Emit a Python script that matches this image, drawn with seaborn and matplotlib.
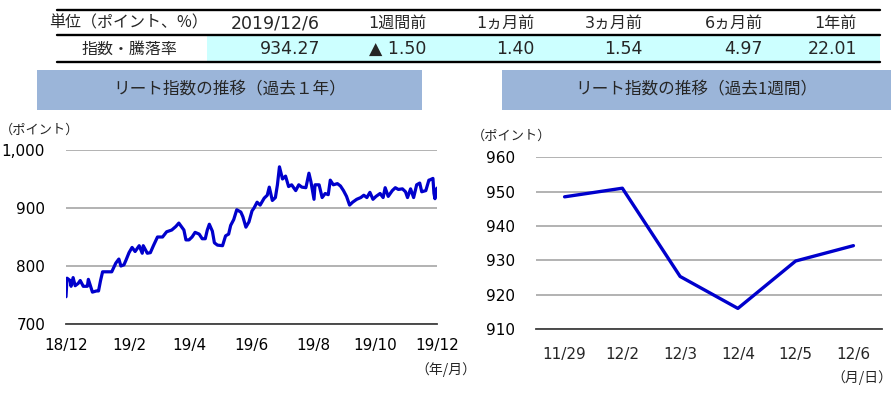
import pandas as pd
import seaborn as sns
import matplotlib.pyplot as plt
from matplotlib.patches import Rectangle

# table
header = ['単位（ポイント、%）', '2019/12/6', '1週間前', '1ヵ月前', '3ヵ月前', '6ヵ月前', '1年前']
row = ['指数・騰落率', '934.27', '▲ 1.50', '1.40', '1.54', '4.97', '22.01']

# past 1 year
year_dates = [
    '2018-12-06', '2018-12-07', '2018-12-10', '2018-12-11', '2018-12-13', '2018-12-15',
    '2018-12-18', '2018-12-20', '2018-12-23', '2018-12-27', '2018-12-28', '2019-01-01',
    '2019-01-05', '2019-01-07', '2019-01-09', '2019-01-11', '2019-01-15', '2019-01-20',
    '2019-01-24', '2019-01-27', '2019-01-29', '2019-02-01', '2019-02-03', '2019-02-06',
    '2019-02-09', '2019-02-12', '2019-02-16', '2019-02-19', '2019-02-20', '2019-02-24',
    '2019-02-27', '2019-03-02', '2019-03-06', '2019-03-11', '2019-03-15', '2019-03-20',
    '2019-03-24', '2019-03-27', '2019-04-01', '2019-04-03', '2019-04-06', '2019-04-09',
    '2019-04-12', '2019-04-16', '2019-04-19', '2019-04-22', '2019-04-24', '2019-04-26',
    '2019-04-29', '2019-05-01', '2019-05-04', '2019-05-09', '2019-05-12', '2019-05-15',
    '2019-05-17', '2019-05-20', '2019-05-23', '2019-05-27', '2019-05-29', '2019-06-01',
    '2019-06-04', '2019-06-07', '2019-06-09', '2019-06-12', '2019-06-15', '2019-06-19',
    '2019-06-22', '2019-06-24', '2019-06-27', '2019-06-30', '2019-07-02', '2019-07-04',
    '2019-07-07', '2019-07-10', '2019-07-13', '2019-07-16', '2019-07-20', '2019-07-23',
    '2019-07-26', '2019-07-30', '2019-08-02', '2019-08-04', '2019-08-07', '2019-08-08',
    '2019-08-12', '2019-08-15', '2019-08-18', '2019-08-21', '2019-08-23', '2019-08-26',
    '2019-08-30', '2019-09-02', '2019-09-05', '2019-09-08', '2019-09-11', '2019-09-14',
    '2019-09-18', '2019-09-22', '2019-09-25', '2019-09-28', '2019-10-01', '2019-10-04',
    '2019-10-07', '2019-10-11', '2019-10-14', '2019-10-16', '2019-10-19', '2019-10-23',
    '2019-10-26', '2019-10-29', '2019-11-02', '2019-11-05', '2019-11-07', '2019-11-10',
    '2019-11-13', '2019-11-16', '2019-11-19', '2019-11-21', '2019-11-25', '2019-11-28',
    '2019-11-29', '2019-12-02', '2019-12-03', '2019-12-04', '2019-12-05', '2019-12-06',
]
year_values = [
    747, 779, 775, 765, 780, 766,
    770, 775, 765, 765, 777, 755,
    757, 757, 775, 790, 790, 790,
    805, 812, 800, 802, 810, 823,
    832, 825, 835, 822, 835, 822,
    823, 835, 850, 850, 859, 862,
    868, 874, 862, 845, 845, 850,
    858, 855, 847, 847, 862, 872,
    860, 840, 836, 835, 852, 855,
    870, 880, 897, 893, 885, 867,
    876, 895, 900, 910, 905, 917,
    922, 936, 913, 918, 940, 971,
    950, 955, 937, 940, 930, 940,
    936, 935, 960, 945, 915, 940,
    940, 918, 925, 923, 948, 940,
    942, 938, 930, 920, 905, 910,
    915, 918, 922, 918, 927, 915,
    920, 925, 918, 935, 920, 930,
    935, 932, 933, 928, 918, 933,
    918, 940, 943, 928, 930, 948,
    948.49, 951.0, 925.3, 916.0, 929.8, 934.27,
]
year_ticks = ['2018-12-06', '2019-02-06', '2019-04-06', '2019-06-06',
              '2019-08-06', '2019-10-06', '2019-12-06']
year_ticklabels = ['18/12', '19/2', '19/4', '19/6', '19/8', '19/10', '19/12']

# past 1 week
week_days = ['11/29', '12/2', '12/3', '12/4', '12/5', '12/6']
week_values = [948.49, 951.0, 925.3, 916.0, 929.8, 934.27]

sns.set_theme(style='white')
plt.rcParams['font.family'] = ['DejaVu Sans', 'Noto Sans CJK JP']
cjk = ['Noto Sans CJK JP', 'DejaVu Sans']
line_color = '#0000cc'
grid_color = '#a6a6a6'
axis_color = '#404040'

W, H = 896, 394
fig = plt.figure(figsize=(W / 100, H / 100), dpi=100)

# background layer in pixel coordinates for table and title boxes
bg = fig.add_axes([0, 0, 1, 1])
bg.set_xlim(0, W)
bg.set_ylim(H, 0)
bg.axis('off')

bg.add_patch(Rectangle((207, 36), 673, 25, color='#ccffff', lw=0))
for y in [10, 35, 62]:
    bg.plot([57, 880], [y, y], color='black', lw=1.7)

bg.text(129, 23, header[0], ha='center', va='center', fontsize=11.5, family=cjk)
bg.text(129, 49, row[0], ha='center', va='center', fontsize=11.5, family=cjk)
right_edges = [320, 426, 534, 643, 763, 857]
for i, (xr, h, r) in enumerate(zip(right_edges, header[1:], row[1:])):
    bg.text(xr, 23, h, ha='right', va='center', fontsize=12.5 if i == 0 else 11.5)
    bg.text(xr, 49, r, ha='right', va='center', fontsize=12.5)

title_color = '#9bb5d9'
bg.add_patch(Rectangle((37, 70), 385, 40, color=title_color, lw=0))
bg.add_patch(Rectangle((502, 70), 389, 40, color=title_color, lw=0))
bg.text(229.5, 90, 'リート指数の推移（過去１年）', ha='center', va='center', fontsize=12, family=cjk)
bg.text(696.5, 90, 'リート指数の推移（過去1週間）', ha='center', va='center', fontsize=12, family=cjk)

bg.text(40, 130, '（ポイント）', ha='center', va='center', fontsize=9.5, family=cjk)
bg.text(512, 136, '（ポイント）', ha='center', va='center', fontsize=9.5, family=cjk)
bg.text(446, 370, '（年/月）', ha='center', va='center', fontsize=10, family=cjk)
bg.text(862, 378, '（月/日）', ha='center', va='center', fontsize=10, family=cjk)

# left chart: past 1 year
df_year = pd.DataFrame({'date': pd.to_datetime(year_dates), 'value': year_values})
ax1 = fig.add_axes([66 / W, 1 - 324 / H, 371 / W, 174 / H])
ax1.patch.set_alpha(0)
sns.lineplot(data=df_year, x='date', y='value', ax=ax1, color=line_color, lw=2.3)
ax1.set_xlim(pd.Timestamp('2018-12-06'), pd.Timestamp('2019-12-06'))
ax1.set_ylim(700, 1000)
ax1.set_yticks([700, 800, 900, 1000], labels=['700', '800', '900', '1,000'])
ax1.set_xticks(pd.to_datetime(year_ticks), labels=year_ticklabels)

# right chart: past 1 week
df_week = pd.DataFrame({'day': week_days, 'value': week_values})
ax2 = fig.add_axes([535.7 / W, 1 - 329 / H, 346.6 / W, 171.7 / H])
ax2.patch.set_alpha(0)
sns.lineplot(data=df_week, x='day', y='value', ax=ax2, sort=False, color=line_color, lw=2.4)
ax2.set_xlim(-0.5, len(week_days) - 0.5)
ax2.set_ylim(910, 960)
ax2.set_yticks([910, 920, 930, 940, 950, 960])
ax2.set_xticks([i - 0.5 for i in range(len(week_days) + 1)], labels=[''] * (len(week_days) + 1))
ax2.set_xticks(range(len(week_days)), labels=week_days, minor=True)
ax2.tick_params(axis='x', which='minor', length=0, pad=13, labelsize=11)

for ax in [ax1, ax2]:
    ax.set_xlabel('')
    ax.set_ylabel('')
    for s in ['top', 'left', 'right']:
        ax.spines[s].set_visible(False)
    ax.spines['bottom'].set_color(axis_color)
    ax.spines['bottom'].set_linewidth(1.3)
    ax.yaxis.grid(True, color=grid_color, lw=1.2)
    ax.set_axisbelow(True)
    ax.tick_params(axis='y', length=0, pad=15, labelsize=11, colors='black')
    ax.tick_params(axis='x', which='major', direction='in', length=6, width=1.3,
                   color=axis_color, labelsize=11, labelcolor='black')
ax1.tick_params(axis='x', which='major', pad=10)

fig.savefig('out.png', dpi=100, facecolor='white')
